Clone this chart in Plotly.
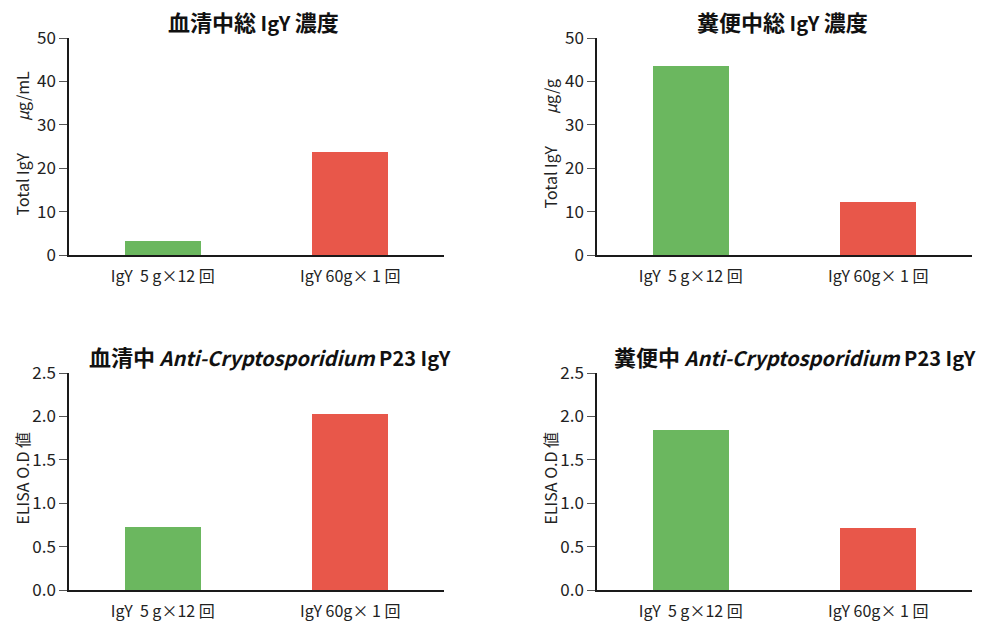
import plotly.graph_objects as go

# Groups and measured values
groups = ["IgY  5 g×12 回", "IgY 60g× 1 回"]
serum_total_igy = [3.2, 23.7]       # μg/mL
feces_total_igy = [43.5, 12.2]      # μg/g
serum_p23_od = [0.725, 2.025]       # ELISA O.D
feces_p23_od = [1.84, 0.713]        # ELISA O.D

bar_colors = ["#6BB75F", "#E8574A"]

CJK = '<span style="font-size:22px">{}</span>'
panel_titles = [
    CJK.format("血清中総") + " IgY " + CJK.format("濃度"),
    CJK.format("糞便中総") + " IgY " + CJK.format("濃度"),
    CJK.format("血清中") + " <i>Anti-Cryptosporidium</i> P23 IgY",
    CJK.format("糞便中") + " <i>Anti-Cryptosporidium</i> P23 IgY",
]
y_titles = [
    "Total IgY　　<i>μ</i>g/mL",
    "Total IgY　　<i>μ</i>g/g",
    "ELISA O.D 値",
    "ELISA O.D 値",
]
y_ranges = [[0, 50], [0, 50], [0, 2.5], [0, 2.5]]
y_dticks = [10, 10, 0.5, 0.5]
y_formats = ["d", "d", ".1f", ".1f"]
series = [serum_total_igy, feces_total_igy, serum_p23_od, feces_p23_od]

W, H = 989, 623
FONT = "Noto Sans CJK JP"

# Plot-area boxes in pixels: (left, right, top, bottom)
boxes = [
    (69, 444, 38, 255),
    (597, 972, 38, 255),
    (69, 444, 373, 590),
    (597, 972, 373, 590),
]
title_centers = [(254, 21), (782, 21), (270, 356), (795, 356)]
ytitle_x = [21, 549, 21, 549]

fig = go.Figure()
annotations = []
for i, (vals, box) in enumerate(zip(series, boxes)):
    n = i + 1
    xa = "x" if n == 1 else f"x{n}"
    ya = "y" if n == 1 else f"y{n}"
    fig.add_trace(go.Bar(
        x=groups, y=vals, xaxis=xa, yaxis=ya,
        marker=dict(color=bar_colors, line=dict(width=0)),
        width=0.405, showlegend=False,
    ))
    l, r, t, b = box
    xkey = "xaxis" if n == 1 else f"xaxis{n}"
    ykey = "yaxis" if n == 1 else f"yaxis{n}"
    fig.layout[xkey] = dict(
        domain=[l / W, r / W], anchor=ya, range=[-0.5, 1.5],
        showline=True, linecolor="#1a1a1a", linewidth=2,
        ticks="", showgrid=False, zeroline=False, automargin=False,
        ticklabelstandoff=6,
        tickfont=dict(family=FONT, size=16, color="#222"),
    )
    fig.layout[ykey] = dict(
        domain=[1 - b / H, 1 - t / H], anchor=xa, range=y_ranges[i],
        dtick=y_dticks[i], tick0=0, tickformat=y_formats[i],
        showline=True, linecolor="#1a1a1a", linewidth=1.5,
        ticks="outside", ticklen=8, tickcolor="#555", tickwidth=1,
        showgrid=False, zeroline=False, automargin=False,
        tickfont=dict(family=FONT, size=17, color="#222"),
    )
    cx, cy = title_centers[i]
    annotations.append(dict(
        text=panel_titles[i], x=cx / W, y=1 - cy / H,
        xref="paper", yref="paper", showarrow=False,
        xanchor="center", yanchor="middle",
        font=dict(family=FONT, size=20, color="#111", weight="bold"),
    ))
    annotations.append(dict(
        text=y_titles[i], x=ytitle_x[i] / W, y=1 - ((t + b) / 2 - 3) / H,
        xref="paper", yref="paper", showarrow=False, textangle=-90,
        xanchor="center", yanchor="middle",
        font=dict(family=FONT, size=16, color="#222"),
    ))

fig.update_layout(
    width=W, height=H,
    margin=dict(l=0, r=0, t=0, b=0, pad=0, autoexpand=False),
    paper_bgcolor="white", plot_bgcolor="white",
    annotations=annotations, bargap=0,
)

fig.write_html("out.html")
